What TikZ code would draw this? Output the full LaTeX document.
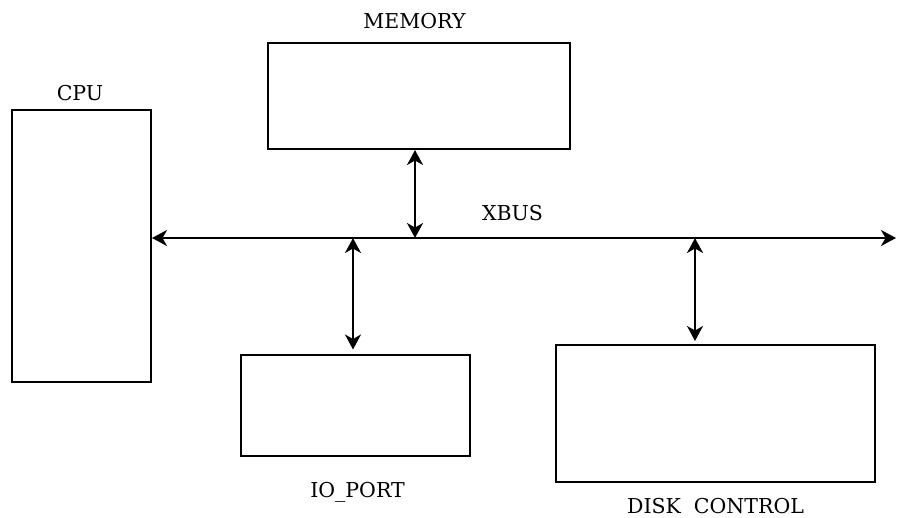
\documentclass[tikz,border=0pt]{standalone}
\usepackage{fontspec}
\setmainfont{DejaVu Serif}
\usepackage{tikz}
\usetikzlibrary{arrows.meta, calc}
\tikzset{
    unit/.style={rectangle,draw,line width=2pt,inner sep=0pt},
    tag/.style={inner sep=0pt,anchor=base,font=\fontsize{20.5}{24}\selectfont},
    link/.style={draw,line width=1.9pt,{Stealth[length=15pt,width=16pt,inset=4.5pt]}-{Stealth[length=15pt,width=16pt,inset=4.5pt]}},
    busdiagram/.style={
        x=1pt,y=-1pt,
        every edge/.style=link,
    }
}
\begin{document}
\begin{tikzpicture}[busdiagram]
\useasboundingbox (0,0) rectangle (897,517);
\node[unit, minimum width=139pt, minimum height=272pt] (cpu) at (81.5,246) {};
\node[unit, minimum width=302pt, minimum height=106pt] (mem) at (419,96) {};
\node[unit, minimum width=229pt, minimum height=101pt] (io) at (355.5,405) {};
\node[unit, minimum width=319pt, minimum height=137pt] (disk) at (715.5,413.5) {};
\node[tag] (cpulbl) at (80,100) {CPU};
\node[tag] (memlbl) at (414.5,28) {MEMORY};
\node[tag] (buslbl) at (512.5,220) {XBUS};
\node[tag] (iolbl) at (357.5,497) {IO\_PORT};
\node[tag] (disklbl) at (715.5,513) {DISK\ \ CONTROL};
% taps on the bus
\coordinate (busend) at (896,238);
\coordinate (tapmem) at (415,238);
\coordinate (tapio) at (353,238);
\coordinate (tapdisk) at (695,238);
\path
    (cpu.east |- busend) edge (busend)
    (mem.south -| tapmem) edge (tapmem)
    (tapio) edge ($(io.north -| tapio)+(0,-4)$)
    (tapdisk) edge ($(disk.north -| tapdisk)+(0,-3)$)
;
\end{tikzpicture}
\end{document}
